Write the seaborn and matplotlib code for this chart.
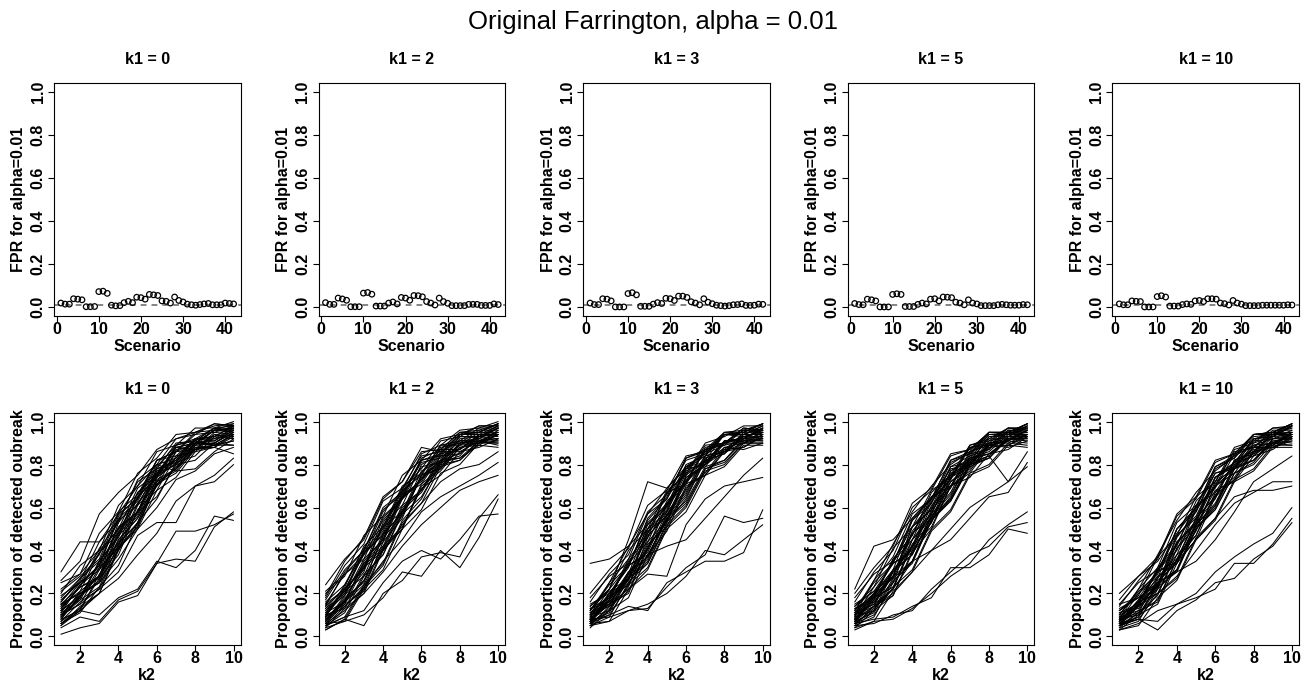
import numpy as np
import pandas as pd
import matplotlib
matplotlib.use("Agg")
import matplotlib.pyplot as plt
import seaborn as sns

# ---------------- data ----------------
k1_values = [0, 2, 3, 5, 10]
scenarios = list(range(1, 43))
k2_values = list(range(1, 11))
alpha = 0.01

fpr_k1_0 = [0.020, 0.015, 0.015, 0.040, 0.038, 0.035, 0.003, 0.003, 0.004, 0.073, 0.075, 0.065,
            0.010, 0.007, 0.008, 0.022, 0.028, 0.022, 0.047, 0.045, 0.038, 0.060, 0.058, 0.055,
            0.030, 0.028, 0.020, 0.048, 0.032, 0.025, 0.015, 0.012, 0.010, 0.013, 0.016, 0.018,
            0.012, 0.012, 0.012, 0.020, 0.018, 0.016]
fpr_k1_2 = [0.022, 0.014, 0.014, 0.043, 0.039, 0.033, 0.003, 0.003, 0.003, 0.066, 0.069, 0.061,
            0.006, 0.006, 0.006, 0.020, 0.025, 0.016, 0.046, 0.043, 0.033, 0.055, 0.054, 0.049,
            0.027, 0.020, 0.011, 0.043, 0.027, 0.019, 0.008, 0.008, 0.008, 0.008, 0.014, 0.014,
            0.014, 0.009, 0.009, 0.009, 0.016, 0.013]
fpr_k1_3 = [0.020, 0.013, 0.013, 0.040, 0.038, 0.030, 0.002, 0.002, 0.002, 0.064, 0.068, 0.058,
            0.005, 0.005, 0.005, 0.015, 0.022, 0.018, 0.042, 0.040, 0.032, 0.052, 0.052, 0.046,
            0.026, 0.020, 0.012, 0.040, 0.024, 0.017, 0.010, 0.008, 0.006, 0.008, 0.012, 0.013,
            0.016, 0.009, 0.009, 0.010, 0.015, 0.014]
fpr_k1_5 = [0.018, 0.013, 0.012, 0.038, 0.035, 0.030, 0.002, 0.002, 0.002, 0.060, 0.063, 0.060,
            0.004, 0.004, 0.004, 0.014, 0.020, 0.016, 0.038, 0.040, 0.030, 0.048, 0.047, 0.045,
            0.024, 0.020, 0.012, 0.035, 0.020, 0.016, 0.008, 0.008, 0.008, 0.008, 0.012, 0.014,
            0.012, 0.010, 0.010, 0.010, 0.013, 0.012]
fpr_k1_10 = [0.016, 0.012, 0.012, 0.030, 0.028, 0.027, 0.002, 0.002, 0.002, 0.050, 0.054, 0.048,
             0.006, 0.006, 0.006, 0.013, 0.016, 0.014, 0.030, 0.032, 0.027, 0.040, 0.040, 0.038,
             0.020, 0.017, 0.011, 0.032, 0.020, 0.015, 0.008, 0.008, 0.008, 0.008, 0.010, 0.010,
             0.010, 0.010, 0.010, 0.010, 0.012, 0.011]

# proportion of detected outbreak (percent), one row per scenario, columns k2 = 1..10
det_k1_0 = [
    [1, 4, 6, 16, 19, 34, 36, 35, 51, 58], [5, 12, 10, 18, 22, 35, 32, 40, 56, 54],
    [4, 9, 7, 17, 21, 34, 49, 49, 52, 57], [8, 12, 20, 27, 38, 48, 63, 70, 72, 80],
    [10, 15, 22, 30, 47, 53, 53, 70, 75, 83], [12, 19, 25, 36, 50, 60, 73, 77, 85, 88],
    [15, 20, 28, 45, 55, 70, 79, 88, 88, 85], [30, 44, 44, 57, 70, 80, 77, 78, 86, 92],
    [26, 35, 57, 67, 75, 87, 92, 95, 98, 99], [18, 27, 38, 58, 66, 82, 86, 94, 95, 98],
    [12, 24, 33, 55, 63, 79, 89, 91, 97, 98], [10, 18, 35, 46, 65, 74, 88, 90, 96, 97],
    [8, 19, 26, 48, 57, 76, 83, 92, 93, 98], [6, 12, 29, 40, 61, 70, 86, 87, 95, 94],
    [15, 23, 41, 53, 73, 80, 92, 94, 99, 98], [20, 33, 40, 61, 70, 86, 89, 97, 97, 100],
    [9, 21, 28, 53, 64, 82, 86, 95, 96, 99], [7, 13, 27, 38, 59, 68, 84, 86, 94, 93],
    [11, 24, 31, 50, 58, 78, 82, 92, 91, 96], [14, 21, 39, 48, 67, 75, 88, 87, 94, 92],
    [5, 14, 20, 41, 51, 71, 78, 89, 90, 95], [16, 26, 44, 54, 72, 78, 90, 91, 97, 95],
    [13, 23, 28, 47, 56, 75, 80, 90, 91, 97], [22, 29, 48, 58, 76, 83, 94, 95, 99, 98],
    [9, 17, 23, 43, 53, 72, 77, 88, 89, 94], [17, 25, 32, 51, 58, 77, 82, 90, 89, 91],
    [6, 11, 23, 33, 53, 64, 81, 84, 93, 92], [10, 20, 25, 45, 55, 73, 78, 87, 88, 93],
    [19, 25, 39, 50, 69, 76, 88, 90, 96, 96], [8, 19, 28, 49, 58, 76, 80, 89, 90, 96],
    [12, 18, 34, 43, 65, 74, 87, 89, 96, 95], [14, 25, 33, 56, 65, 82, 84, 92, 92, 94],
    [7, 16, 22, 41, 50, 68, 74, 86, 88, 94], [11, 17, 32, 41, 58, 65, 80, 82, 90, 89],
    [16, 27, 35, 54, 61, 78, 81, 90, 90, 95], [9, 18, 35, 47, 67, 75, 89, 92, 97, 96],
    [13, 23, 27, 44, 52, 71, 76, 87, 89, 94], [10, 15, 31, 42, 62, 72, 86, 90, 96, 97],
    [21, 28, 36, 57, 64, 80, 83, 91, 89, 91], [6, 13, 20, 40, 53, 74, 81, 92, 93, 98],
    [25, 29, 40, 50, 62, 75, 82, 87, 89, 89], [15, 20, 25, 42, 51, 72, 78, 90, 92, 97],
]
det_k1_2 = [
    [3, 8, 5, 20, 26, 37, 39, 37, 55, 66], [5, 9, 12, 25, 35, 40, 36, 45, 56, 57],
    [6, 7, 10, 18, 30, 28, 40, 32, 46, 64], [6, 12, 20, 30, 42, 52, 60, 68, 72, 75],
    [8, 14, 23, 35, 45, 58, 65, 70, 75, 81], [9, 16, 26, 40, 52, 62, 72, 78, 80, 86],
    [24, 36, 45, 64, 72, 88, 86, 91, 92, 97], [20, 28, 47, 56, 75, 82, 92, 94, 98, 98],
    [15, 29, 38, 58, 68, 85, 89, 96, 97, 100], [12, 21, 40, 50, 69, 78, 91, 93, 98, 98],
    [10, 22, 31, 52, 61, 80, 85, 94, 95, 99], [8, 16, 34, 44, 64, 73, 88, 90, 96, 96],
    [6, 17, 26, 46, 56, 75, 81, 92, 93, 97], [5, 11, 28, 38, 58, 68, 84, 87, 94, 94],
    [4, 13, 20, 40, 50, 70, 77, 88, 90, 96], [3, 8, 23, 33, 53, 62, 79, 82, 91, 92],
    [17, 31, 40, 60, 67, 82, 84, 93, 93, 97], [13, 23, 42, 51, 70, 76, 87, 87, 93, 92],
    [11, 21, 28, 48, 57, 74, 79, 89, 90, 94], [9, 15, 32, 40, 59, 67, 81, 83, 91, 90],
    [7, 16, 24, 42, 51, 69, 75, 86, 88, 92], [14, 22, 38, 48, 66, 72, 85, 87, 94, 93],
    [18, 33, 43, 63, 69, 84, 86, 94, 94, 98], [10, 20, 39, 49, 68, 75, 89, 91, 97, 97],
    [7, 18, 25, 47, 58, 77, 82, 93, 93, 98], [12, 19, 36, 45, 65, 73, 86, 86, 91, 89],
    [5, 14, 22, 44, 55, 75, 80, 90, 91, 95], [16, 24, 39, 47, 65, 71, 84, 85, 92, 91],
    [9, 22, 32, 51, 58, 75, 78, 88, 89, 94], [4, 7, 22, 31, 50, 59, 76, 80, 90, 91],
    [14, 30, 40, 59, 66, 81, 83, 91, 91, 94], [11, 16, 35, 45, 67, 76, 89, 89, 95, 95],
    [6, 15, 21, 41, 50, 71, 78, 90, 92, 97], [8, 17, 33, 41, 60, 68, 82, 83, 89, 88],
    [19, 35, 46, 65, 72, 86, 87, 95, 95, 99], [13, 20, 34, 42, 61, 68, 82, 85, 93, 94],
    [7, 19, 30, 53, 64, 83, 87, 95, 96, 99], [10, 13, 29, 38, 57, 65, 80, 82, 90, 90],
    [15, 22, 32, 55, 65, 82, 85, 94, 95, 99], [5, 9, 24, 34, 54, 64, 81, 84, 94, 94],
    [21, 29, 36, 56, 64, 79, 81, 90, 90, 94], [9, 24, 41, 54, 64, 73, 82, 89, 93, 95],
]
det_k1_3 = [
    [6, 7, 12, 13, 23, 32, 38, 56, 53, 55], [7, 10, 14, 12, 25, 30, 35, 35, 39, 59],
    [8, 9, 12, 15, 20, 28, 40, 38, 45, 52], [10, 15, 22, 29, 28, 52, 64, 70, 72, 74],
    [34, 36, 42, 52, 62, 72, 80, 86, 90, 92], [8, 15, 25, 38, 42, 45, 55, 65, 75, 83],
    [12, 22, 45, 72, 69, 78, 86, 90, 93, 95],
    [8, 18, 27, 48, 59, 79, 85, 94, 95, 99], [6, 12, 29, 40, 61, 71, 87, 90, 97, 96],
    [5, 14, 21, 42, 53, 73, 80, 91, 92, 97], [10, 17, 35, 46, 67, 76, 90, 93, 98, 98],
    [12, 24, 33, 54, 64, 83, 87, 95, 96, 99], [7, 11, 27, 35, 55, 65, 82, 85, 94, 94],
    [9, 20, 26, 44, 54, 74, 80, 91, 92, 97], [14, 22, 40, 50, 68, 75, 89, 90, 96, 95],
    [4, 12, 18, 38, 49, 69, 76, 88, 90, 95], [11, 18, 34, 44, 63, 72, 87, 89, 96, 96],
    [6, 17, 27, 50, 61, 80, 84, 94, 94, 98], [13, 18, 36, 48, 67, 71, 84, 86, 93, 92],
    [8, 19, 24, 43, 51, 70, 75, 87, 88, 93], [5, 9, 25, 34, 52, 61, 78, 81, 90, 90],
    [16, 29, 38, 58, 66, 82, 85, 94, 94, 98], [10, 14, 30, 41, 62, 72, 88, 90, 97, 96],
    [7, 20, 32, 55, 65, 83, 86, 95, 95, 99], [9, 12, 28, 36, 57, 67, 83, 86, 92, 91],
    [12, 25, 36, 57, 64, 79, 81, 90, 90, 94], [6, 10, 24, 32, 51, 60, 77, 80, 90, 90],
    [18, 28, 34, 50, 58, 76, 81, 91, 92, 96], [11, 19, 33, 38, 54, 62, 78, 82, 92, 93],
    [8, 17, 29, 52, 60, 77, 81, 91, 91, 95], [5, 7, 22, 31, 50, 58, 75, 79, 89, 89],
    [14, 21, 27, 47, 56, 74, 79, 90, 92, 97], [10, 25, 42, 57, 69, 79, 85, 89, 91, 92],
    [7, 15, 20, 41, 54, 75, 82, 94, 95, 99], [13, 16, 27, 34, 53, 64, 82, 85, 93, 93],
    [9, 22, 33, 53, 61, 78, 80, 88, 87, 90], [6, 13, 23, 46, 58, 78, 84, 94, 94, 97],
    [15, 20, 33, 39, 58, 68, 84, 87, 94, 94], [8, 16, 26, 49, 56, 71, 75, 86, 88, 94],
    [11, 15, 29, 37, 55, 63, 79, 82, 91, 91], [20, 31, 41, 61, 68, 84, 86, 94, 93, 96],
    [7, 17, 30, 37, 56, 66, 83, 86, 95, 95],
]
det_k1_5 = [
    [3, 7, 8, 13, 20, 28, 34, 45, 52, 58], [5, 6, 10, 12, 22, 30, 38, 42, 51, 53],
    [6, 8, 9, 14, 18, 32, 32, 38, 50, 48], [10, 15, 22, 35, 40, 45, 55, 65, 67, 81],
    [8, 14, 20, 30, 40, 50, 60, 66, 72, 79], [12, 20, 30, 42, 58, 72, 80, 84, 72, 86],
    [22, 42, 45, 55, 65, 75, 82, 88, 92, 94],
    [8, 19, 28, 49, 60, 79, 84, 94, 94, 98], [6, 12, 30, 41, 61, 70, 86, 89, 96, 95],
    [5, 14, 22, 43, 53, 72, 78, 89, 91, 96], [10, 18, 36, 47, 67, 75, 89, 92, 97, 97],
    [12, 25, 34, 55, 64, 82, 86, 95, 95, 99], [7, 11, 26, 34, 54, 64, 81, 84, 93, 93],
    [9, 20, 27, 45, 55, 74, 79, 90, 91, 96], [14, 23, 41, 51, 68, 74, 88, 89, 95, 94],
    [4, 12, 19, 39, 50, 70, 77, 89, 91, 96], [11, 19, 35, 45, 64, 73, 88, 90, 97, 96],
    [6, 18, 28, 51, 62, 81, 85, 95, 95, 99], [13, 18, 36, 47, 65, 70, 83, 85, 92, 91],
    [8, 18, 23, 42, 51, 70, 76, 88, 89, 94], [5, 9, 25, 35, 54, 63, 80, 83, 92, 92],
    [16, 30, 40, 60, 68, 84, 87, 95, 95, 99], [10, 14, 31, 42, 63, 73, 89, 91, 97, 97],
    [7, 20, 31, 54, 64, 82, 85, 94, 94, 98], [9, 12, 27, 35, 56, 66, 82, 85, 91, 90],
    [12, 26, 37, 57, 64, 78, 80, 89, 89, 93], [6, 10, 23, 31, 50, 59, 76, 80, 90, 89],
    [18, 29, 35, 51, 59, 77, 82, 92, 92, 96], [11, 20, 34, 39, 55, 63, 79, 83, 93, 94],
    [8, 17, 28, 51, 59, 76, 80, 90, 90, 94], [4, 7, 21, 30, 49, 58, 75, 79, 89, 88],
    [14, 21, 28, 48, 57, 75, 80, 91, 93, 98], [10, 26, 43, 58, 70, 80, 86, 90, 92, 93],
    [7, 14, 19, 40, 53, 74, 81, 93, 94, 99], [13, 16, 28, 35, 54, 65, 83, 86, 94, 94],
    [9, 23, 34, 54, 62, 79, 81, 89, 88, 91], [6, 13, 22, 45, 57, 77, 83, 93, 93, 97],
    [15, 21, 34, 40, 59, 69, 85, 87, 95, 95], [8, 16, 25, 48, 55, 70, 74, 85, 87, 93],
    [11, 15, 30, 38, 56, 64, 80, 83, 92, 92], [20, 32, 42, 62, 69, 85, 87, 95, 94, 97],
    [7, 17, 31, 38, 57, 67, 84, 87, 96, 96],
]
det_k1_10 = [
    [5, 8, 7, 15, 20, 30, 37, 43, 48, 60], [3, 6, 12, 15, 18, 22, 34, 34, 43, 55],
    [6, 8, 3, 12, 17, 25, 27, 36, 42, 53], [10, 14, 20, 28, 40, 52, 62, 67, 72, 72],
    [12, 20, 28, 35, 45, 55, 65, 68, 68, 70], [15, 18, 25, 30, 35, 45, 58, 72, 78, 84],
    [20, 28, 35, 48, 60, 70, 78, 85, 90, 93],
    [6, 15, 23, 43, 54, 74, 81, 92, 93, 98], [5, 9, 25, 35, 55, 65, 82, 86, 94, 94],
    [4, 11, 17, 36, 47, 67, 74, 87, 89, 95], [8, 14, 31, 42, 63, 72, 88, 91, 97, 97],
    [10, 21, 29, 50, 60, 79, 84, 94, 95, 99], [6, 9, 23, 30, 50, 60, 78, 82, 92, 92],
    [7, 17, 23, 41, 51, 70, 76, 88, 90, 95], [12, 19, 37, 47, 65, 72, 86, 88, 95, 94],
    [3, 10, 15, 34, 45, 65, 73, 86, 89, 94], [9, 16, 31, 40, 60, 69, 85, 88, 96, 96],
    [5, 15, 24, 46, 58, 78, 83, 94, 95, 99], [11, 15, 32, 43, 61, 67, 81, 84, 91, 90],
    [7, 16, 20, 38, 47, 66, 73, 86, 88, 93], [4, 7, 22, 31, 50, 59, 76, 80, 90, 91],
    [14, 26, 36, 56, 64, 81, 85, 94, 95, 99], [8, 11, 27, 38, 59, 70, 87, 90, 97, 98],
    [6, 17, 27, 50, 60, 79, 83, 93, 94, 98], [8, 10, 24, 31, 52, 62, 79, 82, 90, 89],
    [10, 22, 32, 53, 61, 76, 78, 88, 88, 92], [5, 8, 20, 27, 46, 55, 73, 78, 89, 89],
    [15, 25, 31, 47, 55, 74, 80, 91, 92, 96], [9, 16, 30, 35, 51, 59, 76, 81, 92, 94],
    [7, 15, 24, 47, 56, 74, 79, 89, 90, 94], [3, 5, 18, 26, 45, 54, 72, 77, 88, 88],
    [12, 18, 24, 44, 53, 72, 78, 90, 93, 98], [8, 22, 38, 54, 67, 77, 84, 89, 92, 93],
    [6, 12, 16, 36, 49, 71, 79, 92, 94, 99], [11, 13, 25, 31, 50, 61, 80, 84, 93, 94],
    [7, 20, 30, 50, 58, 76, 79, 88, 88, 91], [5, 11, 19, 41, 53, 74, 81, 92, 93, 98],
    [13, 18, 30, 36, 55, 65, 82, 85, 94, 95], [6, 14, 22, 44, 52, 68, 72, 84, 87, 93],
    [9, 12, 26, 34, 52, 61, 78, 82, 91, 92], [17, 28, 37, 57, 65, 82, 85, 94, 94, 97],
    [5, 14, 28, 34, 53, 64, 82, 86, 95, 95],
]

fpr_all = [fpr_k1_0, fpr_k1_2, fpr_k1_3, fpr_k1_5, fpr_k1_10]
det_all = [det_k1_0, det_k1_2, det_k1_3, det_k1_5, det_k1_10]

# ---------------- style ----------------
sns.set_style("white")
plt.rcParams["font.family"] = ["Liberation Sans", "DejaVu Sans"]
plt.rcParams["axes.linewidth"] = 0.8
plt.rcParams["text.color"] = "black"
plt.rcParams["axes.labelcolor"] = "black"
plt.rcParams["xtick.color"] = "black"
plt.rcParams["ytick.color"] = "black"
plt.rcParams["axes.edgecolor"] = "black"

W, H = 1307, 684
fig = plt.figure(figsize=(W / 100, H / 100), dpi=100)

FS = 11.5


def px_axes(left, top, width, height):
    return fig.add_axes([left / W, 1 - (top + height) / H, width / W, height / H])


def style_axes(ax, xticks, yticks):
    for sp in ax.spines.values():
        sp.set_visible(True)
        sp.set_color("black")
        sp.set_linewidth(0.8)
    ax.set_xticks(xticks)
    ax.set_xticklabels([str(t) for t in xticks], fontsize=FS, fontweight="bold", color="black")
    ax.set_yticks(yticks)
    ax.set_yticklabels([f"{t:.1f}" for t in yticks], fontsize=FS, fontweight="bold",
                       rotation=90, va="center", color="black")
    ax.tick_params(axis="both", direction="out", length=4, width=0.8, color="black",
                   bottom=True, left=True)
    ax.tick_params(axis="x", pad=0.5)
    ax.tick_params(axis="y", pad=2)
    ax.grid(False)


yt = [0.0, 0.2, 0.4, 0.6, 0.8, 1.0]
col_left = [54 + 264.6 * i for i in range(5)]
box_w = 186.5

for i, k1 in enumerate(k1_values):
    # ---- top row: FPR per scenario ----
    ax = px_axes(col_left[i], 83, box_w, 233)
    df_top = pd.DataFrame({"Scenario": scenarios, "FPR": fpr_all[i]})
    ax.axhline(alpha, color="#707070", lw=1.2, ls=(0, (3.5, 3)), zorder=1)
    sns.scatterplot(data=df_top, x="Scenario", y="FPR", ax=ax, marker="o", s=16,
                    facecolor="none", edgecolor="black", linewidth=0.9, zorder=3)
    ax.set_xlim(1 - 0.04 * 41, 42 + 0.04 * 41)
    ax.set_ylim(-0.04, 1.04)
    style_axes(ax, [0, 10, 20, 30, 40], yt)
    ax.set_xlabel("Scenario", fontsize=FS, fontweight="bold", labelpad=1, color="black")
    ax.set_ylabel("FPR for alpha=0.01", fontsize=FS, fontweight="bold", labelpad=3, color="black")
    ax.set_title(f"k1 = {k1}", fontsize=FS, fontweight="bold", pad=14, color="black")

    # ---- bottom row: detection curves ----
    ax2 = px_axes(col_left[i], 413, box_w, 232)
    rows = []
    for sid, vals in enumerate(det_all[i]):
        for k2, v in zip(k2_values, vals):
            rows.append({"sid": sid, "k2": k2, "p": v / 100.0})
    df_bot = pd.DataFrame(rows)
    sns.lineplot(data=df_bot, x="k2", y="p", units="sid", estimator=None, color="black",
                 linewidth=0.75, ax=ax2, legend=False)
    ax2.set_xlim(1 - 0.04 * 9, 10 + 0.04 * 9)
    ax2.set_ylim(-0.04, 1.04)
    style_axes(ax2, [2, 4, 6, 8, 10], yt)
    ax2.set_xlabel("k2", fontsize=FS, fontweight="bold", labelpad=1, color="black")
    ax2.set_ylabel("Proportion of detected oubreak", fontsize=FS, fontweight="bold",
                   labelpad=3, color="black")
    ax2.set_title(f"k1 = {k1}", fontsize=FS, fontweight="bold", pad=14, color="black")

fig.text(0.5, 1 - 22 / H, "Original Farrington, alpha = 0.01", ha="center", va="center",
         fontsize=18.5, color="black")

fig.savefig("out.png", dpi=100)
